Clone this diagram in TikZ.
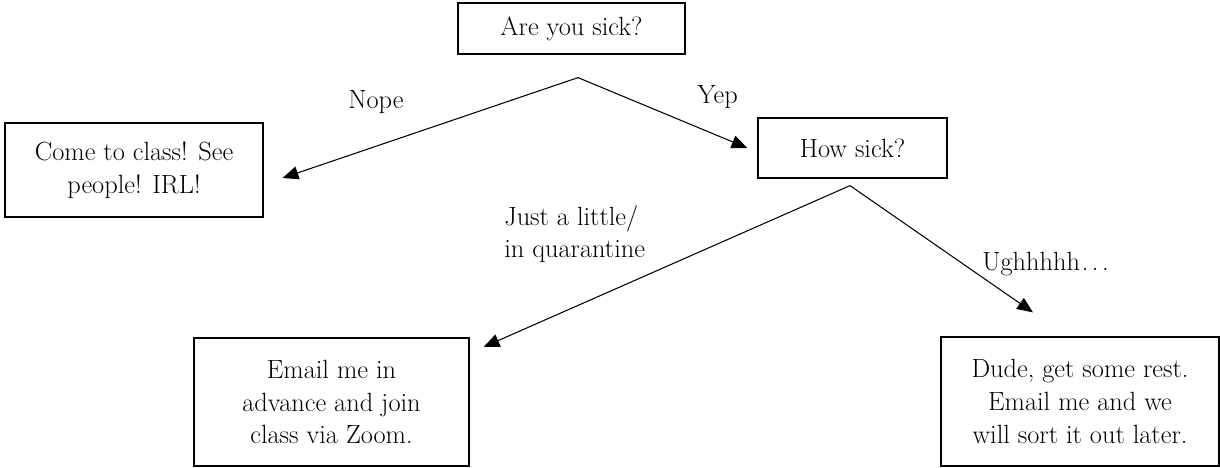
\documentclass[tikz,border=0pt]{standalone}
\usetikzlibrary{arrows.meta,positioning}
\begin{document}
\begin{tikzpicture}[x=0.02cm,y=-0.02cm,
  box node/.style={draw,line width=0.7pt,align=center,inner sep=0pt,font=\fontsize{15}{18.6}\selectfont},
  label node/.style={inner sep=0pt,align=left,font=\fontsize{15}{18.6}\selectfont},
  branch/.style={line width=0.6pt,-{Triangle[length=9pt,width=7.5pt]}}]

  \useasboundingbox (0,0) rectangle (1220,467);

  \node[box node,minimum width=4.54cm,minimum height=1.02cm] (sick) at (571.5,28.5) {Are you sick?};
  \node[box node,minimum width=5.16cm,minimum height=1.88cm] (come) at (134,170) {Come to class! See\\people! IRL!};
  \node[box node,minimum width=3.78cm,minimum height=1.2cm] (how) at (852.5,148) {How sick?};
  \node[box node,minimum width=5.5cm,minimum height=2.56cm] (email) at (331.5,402) {Email me in\\advance and join\\class via Zoom.};
  \node[box node,minimum width=5.56cm,minimum height=2.58cm] (dude) at (1080,401.5) {Dude, get some rest.\\Email me and we\\will sort it out later.};

  \coordinate (split1) at ([shift={(6.5,23)}]sick.south);
  \coordinate (split2) at ([shift={(-2.5,7)}]how.south);

  \draw[branch] (split1) -- ([shift={(19,8)}]come.east);
  \draw[branch] (split1) -- ([shift={(-10,0)}]how.west);
  \draw[branch] (split2) -- ([shift={(14,-55)}]email.east);
  \draw[branch] (split2) -- ([shift={(-47,-24)}]dude.north);

  \node[label node,anchor=base west] (nope) at (348,108) {Nope};
  \node[label node,anchor=base west] (yep) at (697,103) {Yep};
  \node[label node,anchor=north west] (little) at (504,205) {Just a little/\\in quarantine};
  \node[label node,anchor=base west] (ugh) at (982,270) {Ughhhhh\kern1pt.\kern2pt.\kern2pt.};
\end{tikzpicture}
\end{document}
